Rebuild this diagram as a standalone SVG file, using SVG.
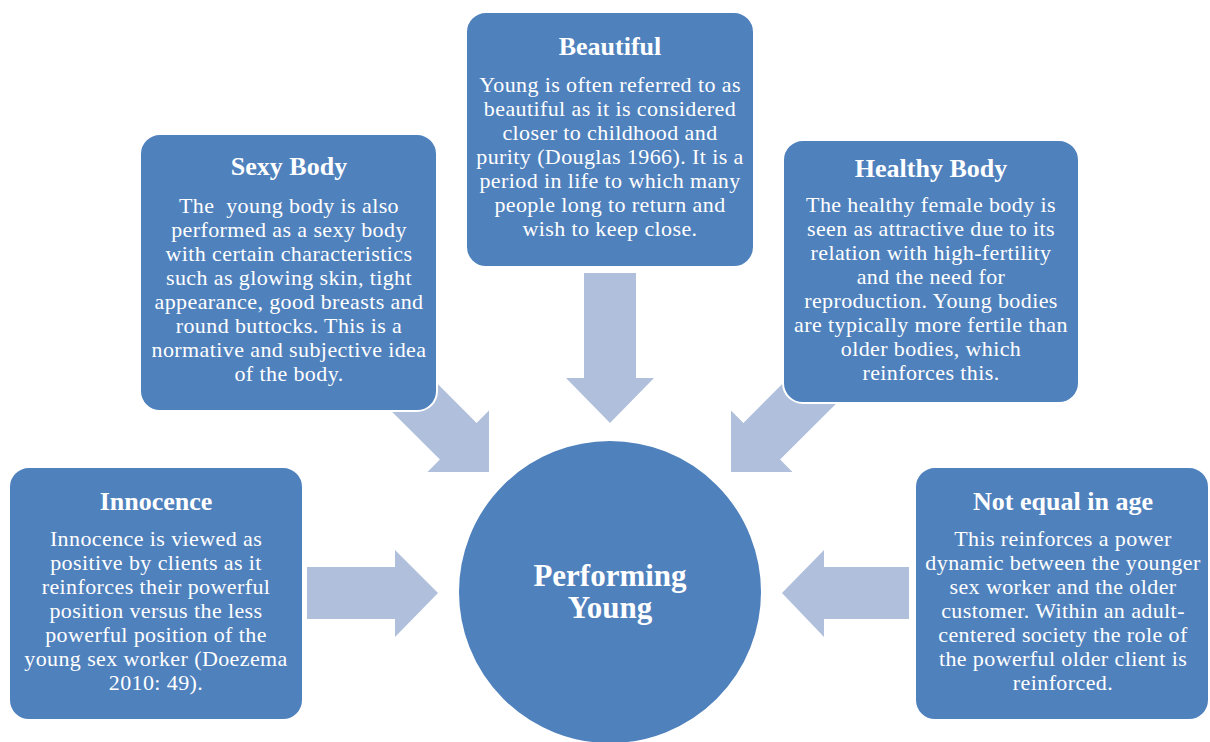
<svg xmlns="http://www.w3.org/2000/svg" width="1210" height="742" viewBox="0 0 1210 742">
<style>
.box{fill:#4F81BD;stroke:#FFFFFF;stroke-width:2}
.arrow{fill:#B0C0DC;stroke:none}
.title{font-family:"Liberation Serif","Times New Roman",serif;font-weight:bold;font-size:26px;fill:#FFFFFF;text-anchor:middle}
.body{font-family:"Liberation Serif","Times New Roman",serif;font-size:22px;letter-spacing:0.4px;fill:#FFFFFF;text-anchor:middle;white-space:pre}
.center{font-family:"Liberation Serif","Times New Roman",serif;font-weight:bold;font-size:31px;fill:#FFFFFF;text-anchor:middle}
</style>
<rect width="1210" height="742" fill="#FFFFFF"/>
<g id="connectors">
<polygon class="arrow" points="584,273 636,273 636,378 654,378 610,423 566,378 584,378"/>
<polygon class="arrow" points="307,567 395,567 395,550 438,593 395,637 395,619 307,619"/>
<polygon class="arrow" points="909,567 824,567 824,550 782,593 824,637 824,619 909,619"/>
<polygon class="arrow" points="405.9,352.1 476.6,422.9 489,410.5 489,472 427.5,472 439.9,459.6 369.1,388.9"/>
<polygon class="arrow" points="814.1,352.1 743.4,422.9 731,410.5 731,472 792.5,472 780.1,459.6 850.9,388.9"/>
</g>
<g id="node-beautiful">
<rect class="box" x="466" y="12" width="288" height="255" rx="20"/>
<text class="title" x="610" y="55">Beautiful</text>
<text class="body" x="610" y="92">Young is often referred to as</text>
<text class="body" x="610" y="116">beautiful as it is considered</text>
<text class="body" x="610" y="140">closer to childhood and</text>
<text class="body" x="610" y="164">purity (Douglas 1966). It is a</text>
<text class="body" x="610" y="188">period in life to which many</text>
<text class="body" x="610" y="212">people long to return and</text>
<text class="body" x="610" y="236">wish to keep close.</text>
</g>
<g id="node-sexy-body">
<rect class="box" x="140" y="134" width="297" height="277" rx="20"/>
<text class="title" x="289" y="175">Sexy Body</text>
<text class="body" x="289" y="213">The  young body is also</text>
<text class="body" x="289" y="237">performed as a sexy body</text>
<text class="body" x="289" y="261">with certain characteristics</text>
<text class="body" x="289" y="285">such as glowing skin, tight</text>
<text class="body" x="289" y="309">appearance, good breasts and</text>
<text class="body" x="289" y="333">round buttocks. This is a</text>
<text class="body" x="289" y="357">normative and subjective idea</text>
<text class="body" x="289" y="381">of the body.</text>
</g>
<g id="node-healthy-body">
<rect class="box" x="783" y="140" width="296" height="263" rx="20"/>
<text class="title" x="931" y="177">Healthy Body</text>
<text class="body" x="931" y="212">The healthy female body is</text>
<text class="body" x="931" y="236">seen as attractive due to its</text>
<text class="body" x="931" y="260">relation with high-fertility</text>
<text class="body" x="931" y="284">and the need for</text>
<text class="body" x="931" y="308">reproduction. Young bodies</text>
<text class="body" x="931" y="332">are typically more fertile than</text>
<text class="body" x="931" y="356">older bodies, which</text>
<text class="body" x="931" y="380">reinforces this.</text>
</g>
<g id="node-innocence">
<rect class="box" x="9" y="467" width="294" height="253" rx="20"/>
<text class="title" x="156" y="510">Innocence</text>
<text class="body" x="156" y="546">Innocence is viewed as</text>
<text class="body" x="156" y="570">positive by clients as it</text>
<text class="body" x="156" y="594">reinforces their powerful</text>
<text class="body" x="156" y="618">position versus the less</text>
<text class="body" x="156" y="642">powerful position of the</text>
<text class="body" x="156" y="666">young sex worker (Doezema</text>
<text class="body" x="156" y="690">2010: 49).</text>
</g>
<g id="node-not-equal">
<rect class="box" x="915" y="467" width="294" height="253" rx="20"/>
<text class="title" x="1063" y="510">Not equal in age</text>
<text class="body" x="1063" y="546">This reinforces a power</text>
<text class="body" x="1063" y="570">dynamic between the younger</text>
<text class="body" x="1063" y="594">sex worker and the older</text>
<text class="body" x="1063" y="618">customer. Within an adult-</text>
<text class="body" x="1063" y="642">centered society the role of</text>
<text class="body" x="1063" y="666">the powerful older client is</text>
<text class="body" x="1063" y="690">reinforced.</text>
</g>
<g id="node-center">
<circle class="box" cx="610" cy="592" r="152"/>
<text class="center" x="610" y="586">Performing</text>
<text class="center" x="610" y="618">Young</text>
</g>
</svg>
